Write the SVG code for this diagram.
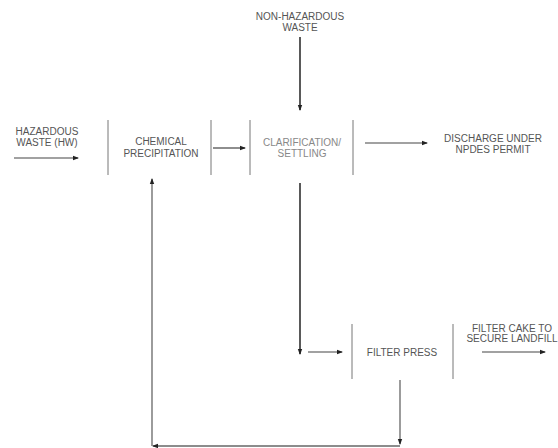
<svg xmlns="http://www.w3.org/2000/svg" width="558" height="448" viewBox="0 0 558 448">
<style>
text{font-family:"Liberation Sans",Arial,sans-serif;font-size:10px;fill:#555;text-anchor:middle}
.lt{fill:#888}
.bar{stroke:#777;stroke-width:1}
.c{stroke:#444;stroke-width:1.2;fill:none}
.g{stroke:#666;stroke-width:1.3;fill:none}
.k{stroke:#000;stroke-width:1.3;fill:none}
</style>
<defs>
<marker id="ah" markerWidth="6" markerHeight="6" refX="5" refY="3" orient="auto" markerUnits="userSpaceOnUse">
<path d="M0,0.8 L6,3 L0,5.2 Z" fill="#222"/>
</marker>
</defs>
<rect width="558" height="448" fill="#fff"/>
<g id="hw">
<text x="47" y="135">HAZARDOUS</text>
<text x="47" y="146">WASTE (HW)</text>
</g>
<g id="nhw">
<text x="300" y="20">NON-HAZARDOUS</text>
<text x="300" y="31">WASTE</text>
</g>
<g id="chem">
<line class="bar" x1="108" y1="120" x2="108" y2="175"/>
<line class="bar" x1="211" y1="120" x2="211" y2="175"/>
<text x="161" y="145">CHEMICAL</text>
<text x="161" y="157">PRECIPITATION</text>
</g>
<g id="clar">
<line class="bar" x1="250" y1="120" x2="250" y2="175"/>
<line class="bar" x1="353" y1="120" x2="353" y2="175"/>
<text class="lt" x="302" y="146">CLARIFICATION/</text>
<text class="lt" x="302" y="157">SETTLING</text>
</g>
<g id="discharge">
<text x="493" y="142">DISCHARGE UNDER</text>
<text x="493" y="153">NPDES PERMIT</text>
</g>
<g id="press">
<line class="bar" x1="352" y1="324" x2="352" y2="379"/>
<line class="bar" x1="453" y1="324" x2="453" y2="379"/>
<text x="402" y="356">FILTER PRESS</text>
</g>
<g id="cake">
<text x="512" y="332">FILTER CAKE TO</text>
<text x="512" y="342">SECURE LANDFILL</text>
</g>
<g id="connectors">
<line class="c" x1="14" y1="158" x2="78" y2="158" marker-end="url(#ah)"/>
<line class="k" x1="300" y1="37" x2="300" y2="110" marker-end="url(#ah)"/>
<line class="c" x1="213" y1="148" x2="245" y2="148" marker-end="url(#ah)"/>
<line class="c" x1="365" y1="143" x2="427" y2="143" marker-end="url(#ah)"/>
<line class="k" x1="300" y1="183" x2="300" y2="354" marker-end="url(#ah)"/>
<line class="c" x1="308" y1="352" x2="342" y2="352" marker-end="url(#ah)"/>
<line class="c" x1="482" y1="352" x2="545" y2="352" marker-end="url(#ah)"/>
<line class="g" x1="400" y1="380" x2="400" y2="444" marker-end="url(#ah)"/>
<line class="g" x1="400" y1="446" x2="153" y2="446" marker-end="url(#ah)"/>
<line class="g" x1="152" y1="446" x2="152" y2="179" marker-end="url(#ah)"/>
</g>
</svg>
